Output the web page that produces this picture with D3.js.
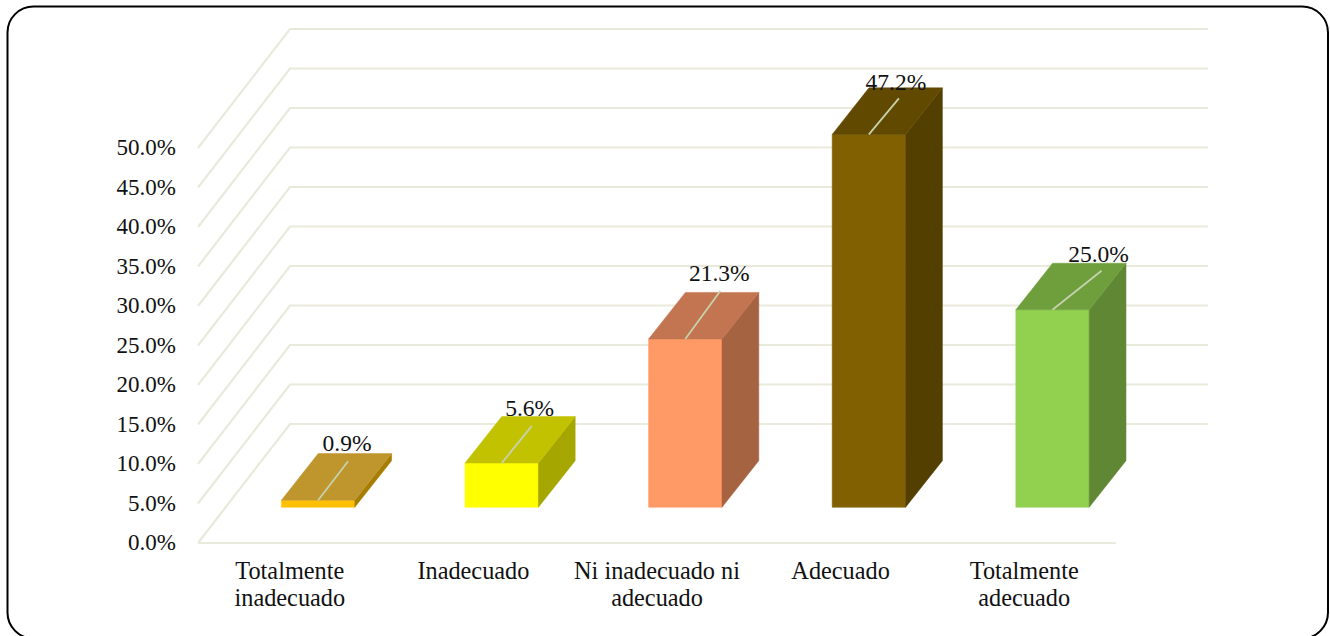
<!DOCTYPE html>
<html><head><meta charset="utf-8">
<script src="https://cdnjs.cloudflare.com/ajax/libs/d3/7.8.5/d3.min.js"></script>
<style>html,body{margin:0;padding:0;background:#fff;overflow:hidden}svg{display:block}text{font-family:"Liberation Serif","Times New Roman",serif;fill:#111}</style>
</head><body><svg id="c" width="1330" height="636"></svg>
<script>
const categories = ["Totalmente\ninadecuado","Inadecuado","Ni inadecuado ni\nadecuado","Adecuado","Totalmente\nadecuado"];
const values = [0.9,5.6,21.3,47.2,25.0];
const valueLabels = ["0.9%","5.6%","21.3%","47.2%","25.0%"];
const yTicks = [0,5,10,15,20,25,30,35,40,45,50];
const frontColors = ["#FFC000","#FFFF00","#FF9966","#806000","#92D050"];
const topColors = ["#BF962E","#C2C200","#C27550","#614900","#6F9E3D"];
const sideColors = ["#A67D00","#A6A600","#A66342","#533F00","#5F8734"];
// presentation: data-label anchors relative to each bar's top-front centre
const labelDx = [29,28,34,27,46], labelDy = [-49,-47,-58,-44,-48];
const leaderDx = [30,30,35,30,49], leaderDy = [-39,-37,-48,-36,-39];

const svg = d3.select("#c");
svg.append("rect").attr("x",7.5).attr("y",6.5).attr("width",1320.5).attr("height",632).attr("rx",26).attr("ry",26)
  .attr("fill","#fff").attr("stroke","#000").attr("stroke-width",2);

const x0=198,x1=1116,dX=92,dY=-119;
const y = d3.scaleLinear().domain([0,50]).range([543,148]);
const x = d3.scaleBand().domain(categories).range([x0,x1]);
const grid="#E9EADB";
const gridG=svg.append("g").attr("fill","none").attr("stroke",grid).attr("stroke-width",2.2);
gridG.selectAll("path").data(yTicks).join("path")
  .attr("d",t=>`M${x0},${y(t)}L${x0+dX},${y(t)+dY}L${x1+dX},${y(t)+dY}`);
gridG.append("line").attr("x1",x0).attr("x2",x1).attr("y1",y(0)).attr("y2",y(0));

const yAxis=svg.append("g").attr("transform",`translate(${x0-15},0)`)
  .call(d3.axisLeft(y).tickValues(yTicks).tickSize(0).tickPadding(7).tickFormat(d=>d.toFixed(1)+"%"));
yAxis.select(".domain").remove();
yAxis.selectAll("text").attr("font-size",23).attr("dy","0.3em").style("font-family",'"Liberation Serif"').attr("fill","#111");

const xAxis=svg.append("g").attr("transform",`translate(0,${y(0)})`)
  .call(d3.axisBottom(x).tickSize(0).tickFormat(""));
xAxis.select(".domain").remove();
xAxis.selectAll(".tick text").each(function(d){
  const t=d3.select(this).text(null).attr("y",36).attr("dy",null).attr("font-size",24.3).style("font-family",'"Liberation Serif"').attr("fill","#111");
  d.split("\n").forEach((s,i)=>t.append("tspan").attr("x",0).attr("y",36+i*27).text(s));
});

const depthA=0.3, depthB=0.7;
const barPad=(183.6-73.4)/2, barShift=0.7;
const bars=svg.append("g").selectAll("g").data(values).join("g");
bars.each(function(v,i){
  const g=d3.select(this), c=categories[i];
  const l=x(c)+barPad+dX*depthA+barShift, r=x(c)+x.bandwidth()-barPad+dX*depthA+barShift;
  const b=y(0)+dY*depthA, t=y(v)+dY*depthA;
  const ex=dX*(depthB-depthA), ey=dY*(depthB-depthA)+1;
  const stroke=(col)=>g.append("path").attr("fill",col).attr("stroke",col).attr("stroke-width",0.5);
  stroke(frontColors[i]).attr("d",`M${l},${b}L${r},${b}L${r},${t}L${l},${t}Z`);
  stroke(sideColors[i]).attr("d",`M${r},${b}L${r+ex},${b+ey}L${r+ex},${t+ey}L${r},${t}Z`);
  stroke(topColors[i]).attr("d",`M${l},${t}L${r},${t}L${r+ex},${t+ey}L${l+ex},${t+ey}Z`);
  const m=(l+r)/2;
  g.append("line").attr("x1",m).attr("y1",t).attr("x2",m+leaderDx[i]).attr("y2",t+leaderDy[i])
    .attr("stroke","#C6D2AE").attr("stroke-width",1.8);
  g.append("text").attr("x",m+labelDx[i]).attr("y",t+labelDy[i]).attr("text-anchor","middle")
    .attr("font-size",23.5).text(valueLabels[i]);
});
</script></body></html>
